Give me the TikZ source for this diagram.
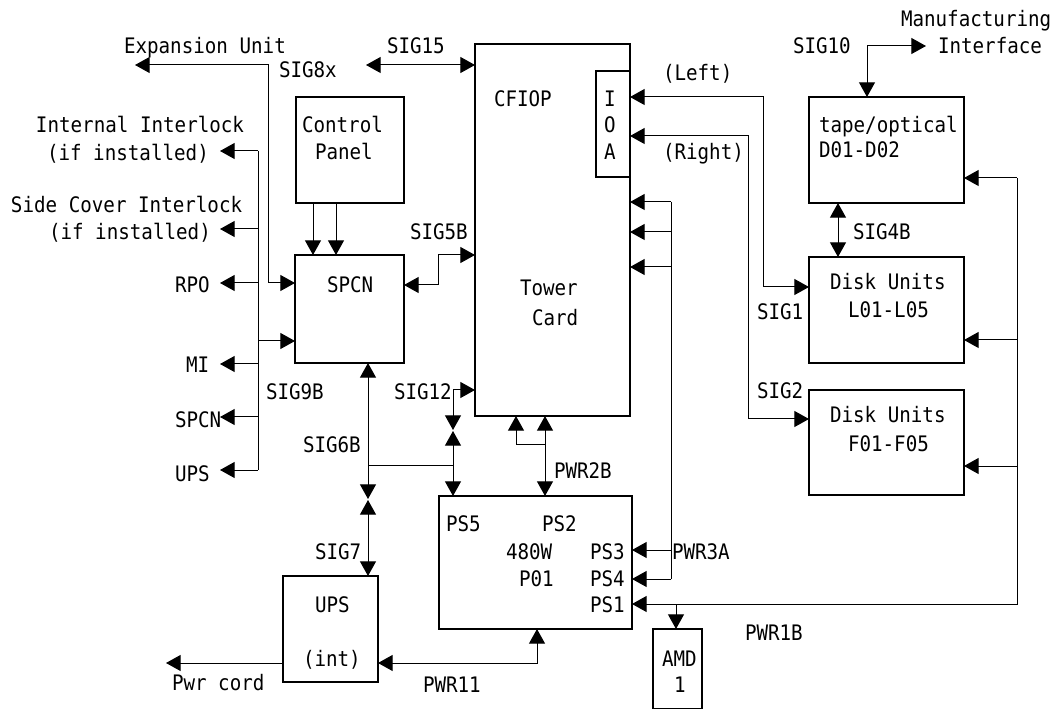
\documentclass[tikz,border=0pt]{standalone}
\usepackage{fontspec}
\setmainfont[FakeStretch=0.9]{DejaVu Sans Mono}
\usetikzlibrary{arrows.meta}
\tikzset{
  x=0.75pt,y=-0.75pt,
  blk/.style={draw=black,line width=1.2pt,inner sep=0pt,outer sep=0pt},
  wire/.style={draw=black,line width=0.75pt},
  tipshape/.style={},
  one/.style={wire,-{Triangle[length=11pt,width=12pt]}},
  rone/.style={wire,{Triangle[length=11pt,width=12pt]}-},
  two/.style={wire,{Triangle[length=11pt,width=12pt]}-{Triangle[length=11pt,width=12pt]}},
  lbl/.style={anchor=base west,inner sep=0pt,outer sep=0pt,font=\fontsize{16pt}{18pt}\selectfont},
}
\newcommand{\blockbox}[5]{\node[blk,minimum width={(#4-#2)*0.75pt},minimum height={(#5-#3)*0.75pt}] (#1) at ({(#2+#4)/2},{(#3+#5)/2}) {};}
\begin{document}
\begin{tikzpicture}
\useasboundingbox (0,0) rectangle (1054,709);
% boxes
\blockbox{tower}{475}{44}{630}{416}
\blockbox{ioa}{596}{71}{630}{177}
\blockbox{panel}{296}{97}{404}{203}
\blockbox{spcn}{295}{255}{404}{363}
\blockbox{tape}{809}{97}{964}{203}
\blockbox{diskl}{809}{257}{964}{363}
\blockbox{diskf}{809}{390}{964}{495}
\blockbox{ps}{439}{496}{632}{629}
\blockbox{ups}{283}{576}{378}{682}
\blockbox{amd}{653}{629}{702}{709}
% named free ends
\coordinate (expEnd) at (135,65);
\coordinate (expBend) at (268,65);
\coordinate (expLow) at (268,283);
\coordinate (sigfifteen) at (366,65);
\coordinate (busTop) at (258,151);
\coordinate (busBot) at (258,470);
\coordinate (endInt) at (220,151);
\coordinate (endSide) at (220,229);
\coordinate (endRpo) at (220,283);
\coordinate (endMi) at (220,364);
\coordinate (endSpcn) at (220,417);
\coordinate (endUps) at (220,470);
\coordinate (fiveA) at (438,285);
\coordinate (fiveB) at (438,255);
\coordinate (six) at (368,499);
\coordinate (seven) at (368,500);
\coordinate (branchA) at (368,465);
\coordinate (branchB) at (453,465);
\coordinate (twelveBend) at (453,390);
\coordinate (twelveEnd) at (453,430);
\coordinate (fiveUp) at (453,431);
\coordinate (towerA) at (516,445);
\coordinate (towerB) at (545,445);
\coordinate (pwrTop) at (671,202);
\coordinate (pwrBot) at (671,579);
\coordinate (leftBendA) at (763,97);
\coordinate (leftBendB) at (763,287);
\coordinate (rightBendA) at (748,136);
\coordinate (rightBendB) at (748,419);
\coordinate (tenBend) at (867,46);
\coordinate (tenEnd) at (926,46);
\coordinate (busRightBot) at (1017,604);
\coordinate (busRightTop) at (1017,178);
\coordinate (amdJoint) at (676,604);
\coordinate (elevenBend) at (537,663);
\coordinate (cord) at (166,663);
% connectors
\draw[two] (expLow -| spcn.west) -- (expLow) -- (expBend) -- (expEnd);
\draw[two] (sigfifteen) -- (tower.west |- sigfifteen);
\draw[wire] (busTop) -- (busBot);
\draw[one] (busTop) -- (endInt);
\draw[one] (busTop |- endSide) -- (endSide);
\draw[one] (busTop |- endRpo) -- (endRpo);
\draw[one] (busTop |- endMi) -- (endMi);
\draw[one] (busTop |- endSpcn) -- (endSpcn);
\draw[one] (busBot) -- (endUps);
\draw[one] (busTop |- 0,341) -- (spcn.west |- 0,341);
\draw[one] (panel.south -| 313,0) -- (spcn.north -| 313,0);
\draw[one] (panel.south -| 336,0) -- (spcn.north -| 336,0);
\draw[two] (spcn.east |- fiveA) -- (fiveA) -- (fiveB) -- (tower.west |- fiveB);
\draw[two] (spcn.south -| six) -- (six);
\draw[two] (seven) -- (ups.north -| seven);
\draw[wire] (branchA) -- (branchB);
\draw[two] (tower.west |- twelveBend) -- (twelveBend) -- (twelveEnd);
\draw[two] (fiveUp) -- (ps.north -| fiveUp);
\draw[one] (towerB) -- (towerA) -- (tower.south -| towerA);
\draw[two] (tower.south -| towerB) -- (ps.north -| towerB);
\draw[wire] (pwrTop) -- (pwrBot);
\draw[one] (pwrTop) -- (tower.east |- pwrTop);
\draw[one] (pwrTop |- 0,232) -- (tower.east |- 0,232);
\draw[one] (pwrTop |- 0,267) -- (tower.east |- 0,267);
\draw[one] (pwrTop |- 0,550) -- (ps.east |- 0,550);
\draw[one] (pwrBot) -- (ps.east |- pwrBot);
\draw[two] (tower.east |- leftBendA) -- (leftBendA) -- (leftBendB) -- (diskl.west |- leftBendB);
\draw[two] (tower.east |- rightBendA) -- (rightBendA) -- (rightBendB) -- (diskf.west |- rightBendB);
\draw[two] (tape.north -| tenBend) -- (tenBend) -- (tenEnd);
\draw[two] (tape.south -| 838,0) -- (diskl.north -| 838,0);
\draw[rone] (ps.east |- busRightBot) -- (busRightBot) -- (busRightTop);
\draw[one] (busRightTop) -- (tape.east |- busRightTop);
\draw[one] (busRightBot |- 0,340) -- (diskl.east |- 0,340);
\draw[one] (busRightBot |- 0,466) -- (diskf.east |- 0,466);
\draw[one] (amdJoint) -- (amd.north -| amdJoint);
\draw[two] (ups.east |- elevenBend) -- (elevenBend) -- (ps.south -| elevenBend);
\draw[one] (ups.west |- cord) -- (cord);
% labels
\node[lbl] (t1) at (124,54) {Expansion Unit};
\node[lbl] (t2) at (279,78) {SIG8x};
\node[lbl] (t3) at (387,54) {SIG15};
\node[lbl] (t4) at (36,133) {Internal Interlock};
\node[lbl] (t5) at (47,161) {(if installed)};
\node[lbl] (t6) at (11,213) {Side Cover Interlock};
\node[lbl] (t7) at (49,240) {(if installed)};
\node[lbl] (t8) at (175,293) {RPO};
\node[lbl] (t9) at (302,133) {Control};
\node[lbl] (t10) at (315,160) {Panel};
\node[lbl] (t11) at (327,293) {SPCN};
\node[lbl] (t12) at (410,240) {SIG5B};
\node[lbl] (t13) at (186,373) {MI};
\node[lbl] (t14) at (175,427) {SPCN};
\node[lbl] (t15) at (175,481) {UPS};
\node[lbl] (t16) at (266,400) {SIG9B};
\node[lbl] (t17) at (394,400) {SIG12};
\node[lbl] (t18) at (303,453) {SIG6B};
\node[lbl] (t19) at (315,559) {SIG7};
\node[lbl] (t20) at (315,612) {UPS};
\node[lbl] (t21) at (303,666) {(int)};
\node[lbl] (t22) at (172,690) {Pwr cord};
\node[lbl] (t23) at (423,692) {PWR11};
\node[lbl] (t24) at (446,532) {PS5};
\node[lbl] (t25) at (542,532) {PS2};
\node[lbl] (t26) at (506,559) {480W};
\node[lbl] (t27) at (519,586) {P01};
\node[lbl] (t28) at (590,559) {PS3};
\node[lbl] (t29) at (590,586) {PS4};
\node[lbl] (t30) at (590,612) {PS1};
\node[lbl] (t31) at (672,559) {PWR3A};
\node[lbl] (t32) at (554,479) {PWR2B};
\node[lbl] (t33) at (662,666) {AMD};
\node[lbl] (t34) at (674,692) {1};
\node[lbl] (t35) at (745,640) {PWR1B};
\node[lbl] (t36) at (494,107) {CFIOP};
\node[lbl] (t37) at (520,296) {Tower};
\node[lbl] (t38) at (532,326) {Card};
\node[lbl] (t39) at (604,107) {I};
\node[lbl] (t40) at (604,133) {O};
\node[lbl] (t41) at (604,160) {A};
\node[lbl] (t42) at (663,81) {(Left)};
\node[lbl] (t43) at (663,160) {(Right)};
\node[lbl] (t44) at (793,54) {SIG10};
\node[lbl] (t45) at (901,27) {Manufacturing};
\node[lbl] (t46) at (938,54) {Interface};
\node[lbl] (t47) at (819,133) {tape/optical};
\node[lbl] (t48) at (819,158) {D01-D02};
\node[lbl] (t49) at (853,240) {SIG4B};
\node[lbl] (t50) at (830,290) {Disk Units};
\node[lbl] (t51) at (848,318) {L01-L05};
\node[lbl] (t52) at (757,320) {SIG1};
\node[lbl] (t53) at (757,399) {SIG2};
\node[lbl] (t54) at (830,422) {Disk Units};
\node[lbl] (t55) at (848,451) {F01-F05};
\end{tikzpicture}
\end{document}
